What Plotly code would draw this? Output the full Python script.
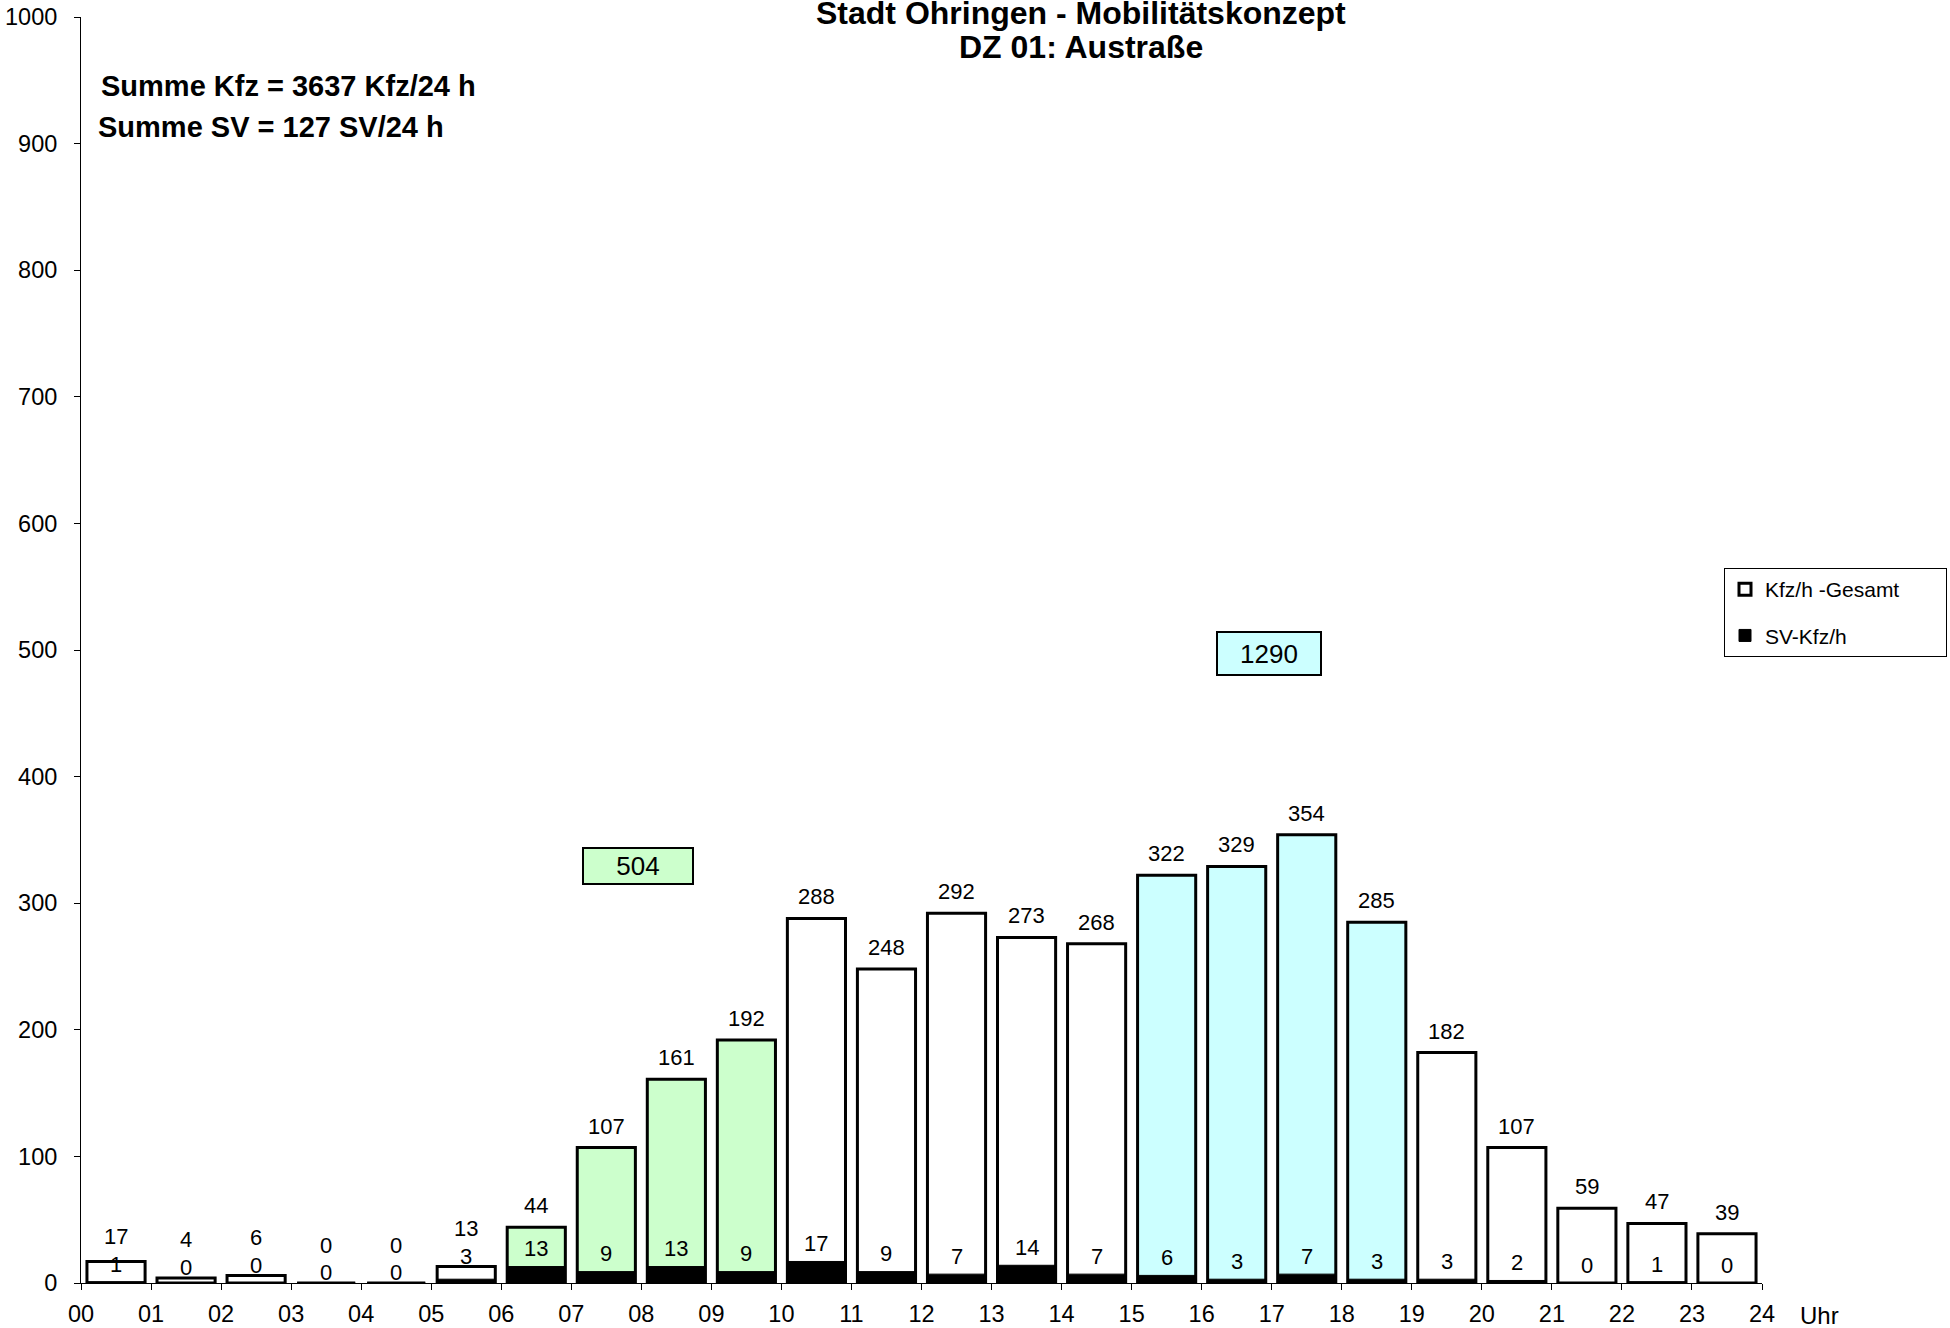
import plotly.graph_objects as go

# ---------------- data ----------------
hours = list(range(24))
tick_labels = ["00", "01", "02", "03", "04", "05", "06", "07", "08", "09", "10", "11",
               "12", "13", "14", "15", "16", "17", "18", "19", "20", "21", "22", "23", "24"]
kfz = [17, 4, 6, 0, 0, 13, 44, 107, 161, 192, 288, 248, 292, 273, 268, 322, 329, 354,
       285, 182, 107, 59, 47, 39]
sv = [1, 0, 0, 0, 0, 3, 13, 9, 13, 9, 17, 9, 7, 14, 7, 6, 3, 7, 3, 3, 2, 0, 1, 0]
morning_peak = [6, 7, 8, 9]
evening_peak = [15, 16, 17, 18]
title_lines = ["Stadt Öhringen - Mobilitätskonzept", "DZ 01: Austraße"]
sum_kfz_text = "Summe Kfz = %d Kfz/24 h" % sum(kfz)
sum_sv_text = "Summe SV = %d SV/24 h" % sum(sv)
legend_names = ["Kfz/h -Gesamt", "SV-Kfz/h"]

# ---------------- style / geometry ----------------
FONT = "Liberation Sans, Arial, sans-serif"
GREEN = "#CCFFCC"
CYAN = "#CCFFFF"
colors = [GREEN if h in morning_peak else CYAN if h in evening_peak else "white" for h in hours]
xc = [h + 0.5 for h in hours]
PAD = "\u00a0" * 7

W, H = 1950, 1328
PL, PR, PT, PB = 81, 1762, 17, 1283   # plot area in page pixels


def px(xp):
    return (xp - PL) / float(PR - PL)


def py(yp):
    return (PB - yp) / float(PB - PT)


fig = go.Figure()
fig.add_trace(go.Bar(x=xc, y=kfz, width=0.83, name=legend_names[0] + PAD,
                     marker=dict(color=colors, line=dict(color="black", width=3)),
                     legendgroup="a"))
fig.add_trace(go.Bar(x=xc, y=sv, width=0.83, name=legend_names[1],
                     marker=dict(color="black", line=dict(color="black", width=1)),
                     legendgroup="b"))

# value labels
for h in hours:
    sv_y = sv[h] + 14 if kfz[h] - sv[h] > 15 else kfz[h] + 8
    kfz_y = max(kfz[h] + 17, sv_y + 22)
    fig.add_annotation(x=xc[h], y=kfz_y, text=str(kfz[h]), showarrow=False,
                       font=dict(size=22, color="black", family=FONT), yanchor="middle")
    fig.add_annotation(x=xc[h], y=sv_y, text=str(sv[h]), showarrow=False,
                       font=dict(size=22, color="black", family=FONT), yanchor="middle")

# peak sums
fig.add_annotation(x=(morning_peak[0] + morning_peak[-1] + 1) / 2 - 0.05, y=329,
                   text=str(sum(kfz[h] for h in morning_peak)), showarrow=False,
                   font=dict(size=26, color="black", family=FONT),
                   bgcolor=GREEN, bordercolor="black", borderwidth=2, width=106, height=32)
fig.add_annotation(x=(evening_peak[0] + evening_peak[-1] + 1) / 2 - 0.04, y=497,
                   text=str(sum(kfz[h] for h in evening_peak)), showarrow=False,
                   font=dict(size=26, color="black", family=FONT),
                   bgcolor=CYAN, bordercolor="black", borderwidth=2, width=100, height=39)

# title and sums
for line, ypx in zip(title_lines, [13, 47]):
    fig.add_annotation(xref="paper", yref="paper", x=px(1081), y=py(ypx),
                       text="<b>" + line + "</b>", showarrow=False,
                       font=dict(size=32, color="black", family=FONT), yanchor="middle")
fig.add_annotation(xref="paper", yref="paper", x=px(99), y=py(86),
                   xanchor="left", text="<b>" + sum_kfz_text + "</b>", showarrow=False,
                   font=dict(size=29, color="black", family=FONT), yanchor="middle")
fig.add_annotation(xref="paper", yref="paper", x=px(96), y=py(127),
                   xanchor="left", text="<b>" + sum_sv_text + "</b>", showarrow=False,
                   font=dict(size=29, color="black", family=FONT), yanchor="middle")
fig.add_annotation(xref="paper", yref="paper", x=px(1798), y=py(1315),
                   xanchor="left", text="Uhr", showarrow=False,
                   font=dict(size=24, color="black", family=FONT), yanchor="middle")

fig.update_layout(
    width=W, height=H,
    margin=dict(l=PL, r=W - PR, t=PT, b=H - PB, autoexpand=False),
    paper_bgcolor="white", plot_bgcolor="white",
    barmode="overlay",
    font=dict(family=FONT, size=22, color="black"),
    showlegend=True,
    legend=dict(xref="container", yref="container",
                x=1724 / float(W), y=1 - 568 / float(H),
                xanchor="left", yanchor="top",
                bgcolor="white", bordercolor="black", borderwidth=1,
                font=dict(size=21, family=FONT), tracegroupgap=16, itemwidth=30),
    xaxis=dict(range=[0, 24], tickvals=list(range(25)), ticktext=tick_labels,
               showline=True, linecolor="black", linewidth=1, ticks="outside",
               ticklen=6, tickcolor="black", showgrid=False, zeroline=False,
               ticklabelstandoff=4, ticklabeloverflow="allow", tickfont=dict(size=23.5)),
    yaxis=dict(range=[0, 1000], tickvals=list(range(0, 1001, 100)),
               showline=True, linecolor="black", linewidth=1, ticks="outside",
               ticklen=6, tickcolor="black", showgrid=False, zeroline=False,
               ticklabelstandoff=12, ticklabeloverflow="allow", tickfont=dict(size=23.5)),
)

fig.write_html("out.html", config={"displayModeBar": False},
               post_script="document.body.style.margin='0';document.body.style.overflow='hidden';")
